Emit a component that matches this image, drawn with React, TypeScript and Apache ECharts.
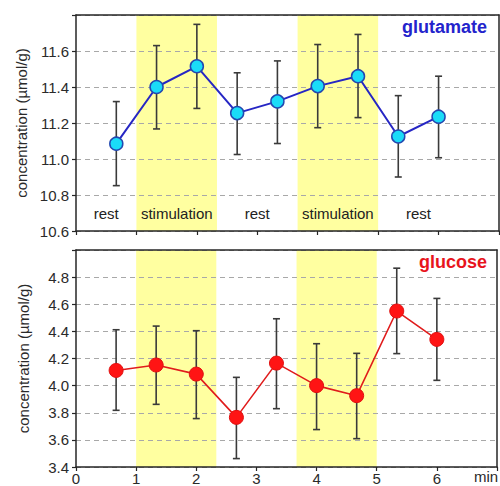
import React, { useEffect, useRef } from 'react';
import * as echarts from 'echarts';

const times = [0.667, 1.333, 2, 2.667, 3.333, 4, 4.667, 5.333, 6];
const glutamate = [11.085, 11.4, 11.515, 11.255, 11.32, 11.405, 11.46, 11.125, 11.235];
const glutamateLow = [10.852, 11.167, 11.281, 11.025, 11.086, 11.174, 11.23, 10.9, 11.007];
const glutamateHigh = [11.319, 11.63, 11.748, 11.479, 11.545, 11.636, 11.692, 11.352, 11.46];
const glucose = [4.112, 4.152, 4.085, 3.766, 4.166, 4.0, 3.926, 4.55, 4.341];
const glucoseLow = [3.818, 3.862, 3.757, 3.462, 3.83, 3.676, 3.609, 4.236, 4.039];
const glucoseHigh = [4.412, 4.439, 4.405, 4.061, 4.493, 4.309, 4.238, 4.866, 4.643];
const stimStart = [1, 3.667];
const stimEnd = [2.333, 5];
const phaseLabels = ['rest', 'stimulation', 'rest', 'stimulation', 'rest'];
const phaseCenters = [0.5, 1.667, 3.0, 4.333, 5.667];
const phaseLabelY = 10.695;

const FONT = '"Liberation Sans", Arial, sans-serif';
const AX = '#262626';

export default function App() {
  const ref = useRef<HTMLDivElement>(null);
  useEffect(() => {
    document.body.style.margin = '0';
    const chart = echarts.init(ref.current!, null, { renderer: 'svg' });

    const bandSeries = (gi: number, yRef: number) => ({
      type: 'custom',
      xAxisIndex: gi,
      yAxisIndex: gi,
      z: 1,
      silent: true,
      clip: true,
      encode: { x: [0, 1], y: 2 },
      data: stimStart.map((s, i) => [s, stimEnd[i], yRef]),
      renderItem: (params: any, api: any) => {
        const cs = params.coordSys;
        const x0 = api.coord([api.value(0), yRef])[0];
        const x1 = api.coord([api.value(1), yRef])[0];
        return {
          type: 'rect',
          shape: { x: x0, y: cs.y, width: x1 - x0, height: cs.height },
          style: { fill: '#ffffa0' },
        };
      },
    });

    const errSeries = (gi: number, lo: number[], hi: number[]) => ({
      type: 'custom',
      xAxisIndex: gi,
      yAxisIndex: gi,
      z: 3,
      silent: true,
      encode: { x: 0, y: [1, 2] },
      data: times.map((t, i) => [t, lo[i], hi[i]]),
      renderItem: (params: any, api: any) => {
        const x = api.value(0);
        const pLo = api.coord([x, api.value(1)]);
        const pHi = api.coord([x, api.value(2)]);
        const w = 3.5;
        const st = { stroke: '#3a3a3a', lineWidth: 1.6 };
        return {
          type: 'group',
          children: [
            { type: 'line', shape: { x1: pLo[0], y1: pLo[1], x2: pHi[0], y2: pHi[1] }, style: st },
            { type: 'line', shape: { x1: pLo[0] - w, y1: pLo[1], x2: pLo[0] + w, y2: pLo[1] }, style: st },
            { type: 'line', shape: { x1: pHi[0] - w, y1: pHi[1], x2: pHi[0] + w, y2: pHi[1] }, style: st },
          ],
        };
      },
    });

    const baseX = (gi: number, showLabels: boolean) => ({
      type: 'value',
      gridIndex: gi,
      min: 0,
      max: 7,
      interval: 1,
      z: 2,
      axisLine: { show: true, onZero: false, lineStyle: { color: AX, width: 1.5 } },
      axisTick: { show: true, length: 4, lineStyle: { color: AX, width: 1.2 } },
      axisLabel: {
        show: showLabels,
        fontSize: 15,
        fontFamily: FONT,
        color: '#2a2a2a',
        margin: 4,
        formatter: (v: number) => (v <= 6 ? String(v) : ''),
      },
      splitLine: { show: false },
    });

    const frameX = (gi: number) => ({
      type: 'value',
      gridIndex: gi,
      position: 'top',
      min: 0,
      max: 7,
      z: 2,
      axisLine: { show: true, onZero: false, lineStyle: { color: AX, width: 1.5 } },
      axisTick: { show: false },
      axisLabel: { show: false },
      splitLine: { show: false },
    });

    const baseY = (gi: number, min: number, max: number) => ({
      type: 'value',
      gridIndex: gi,
      min,
      max,
      interval: 0.2,
      z: 2,
      name: 'concentration (µmol/g)',
      nameLocation: 'middle',
      nameGap: 45,
      nameTextStyle: { fontSize: 15, fontFamily: FONT, color: '#2a2a2a' },
      axisLine: { show: true, onZero: false, lineStyle: { color: AX, width: 1.5 } },
      axisTick: { show: true, length: 4, lineStyle: { color: AX, width: 1.2 } },
      axisLabel: {
        fontSize: 15,
        fontFamily: FONT,
        color: '#2a2a2a',
        margin: 7,
        formatter: (v: number) => (v > max - 0.1 ? '' : v.toFixed(1)),
      },
      splitLine: { show: true, lineStyle: { color: '#a8a8a8', type: [5, 4], width: 1.2 } },
    });

    const frameY = (gi: number, min: number, max: number) => ({
      type: 'value',
      gridIndex: gi,
      position: 'right',
      min,
      max,
      z: 2,
      axisLine: { show: true, onZero: false, lineStyle: { color: AX, width: 1.5 } },
      axisTick: { show: false },
      axisLabel: { show: false },
      splitLine: { show: false },
    });

    chart.setOption({
      animation: false,
      grid: [
        { left: 76, top: 15, right: 1, height: 216 },
        { left: 76, top: 250, right: 1, height: 218 },
      ],
      xAxis: [baseX(0, false), baseX(1, true), frameX(0), frameX(1)],
      yAxis: [baseY(0, 10.6, 11.8), baseY(1, 3.4, 5.0), frameY(0, 10.6, 11.8), frameY(1, 3.4, 5.0)],
      series: [
        bandSeries(0, 11),
        bandSeries(1, 4),
        errSeries(0, glutamateLow, glutamateHigh),
        errSeries(1, glucoseLow, glucoseHigh),
        {
          type: 'line',
          xAxisIndex: 0,
          yAxisIndex: 0,
          z: 4,
          data: times.map((t, i) => [t, glutamate[i]]),
          symbol: 'circle',
          symbolSize: 13,
          lineStyle: { color: '#2626c4', width: 2 },
          itemStyle: { color: '#1adcf8', borderColor: '#2348b0', borderWidth: 1.5 },
        },
        {
          type: 'line',
          xAxisIndex: 1,
          yAxisIndex: 1,
          z: 4,
          data: times.map((t, i) => [t, glucose[i]]),
          symbol: 'circle',
          symbolSize: 14,
          lineStyle: { color: '#e01c1c', width: 1.6 },
          itemStyle: { color: '#ff1414', borderColor: '#e01010', borderWidth: 1 },
        },
        {
          type: 'custom',
          xAxisIndex: 0,
          yAxisIndex: 0,
          z: 4,
          silent: true,
          encode: { x: 0, y: 1 },
          data: phaseCenters.map((c, i) => [c, phaseLabelY, i]),
          renderItem: (params: any, api: any) => {
            const p = api.coord([api.value(0), api.value(1)]);
            return {
              type: 'text',
              x: p[0],
              y: p[1],
              style: {
                text: phaseLabels[api.value(2)],
                fill: '#222',
                font: `15px ${FONT}`,
                align: 'center',
                verticalAlign: 'middle',
              },
            };
          },
        },
      ],
      graphic: [
        {
          type: 'text',
          right: 13,
          top: 18,
          style: { text: 'glutamate', font: `bold 18px ${FONT}`, fill: '#2323cc' },
        },
        {
          type: 'text',
          right: 13,
          top: 253,
          style: { text: 'glucose', font: `bold 18px ${FONT}`, fill: '#e8141c' },
        },
        {
          type: 'text',
          left: 474,
          top: 469,
          style: { text: 'min', font: `15px ${FONT}`, fill: '#2a2a2a' },
        },
      ],
    });
    return () => chart.dispose();
  }, []);
  return (
    <div
      ref={ref}
      style={{ position: 'fixed', left: 0, top: 0, width: 500, height: 486, background: '#fff' }}
    />
  );
}
